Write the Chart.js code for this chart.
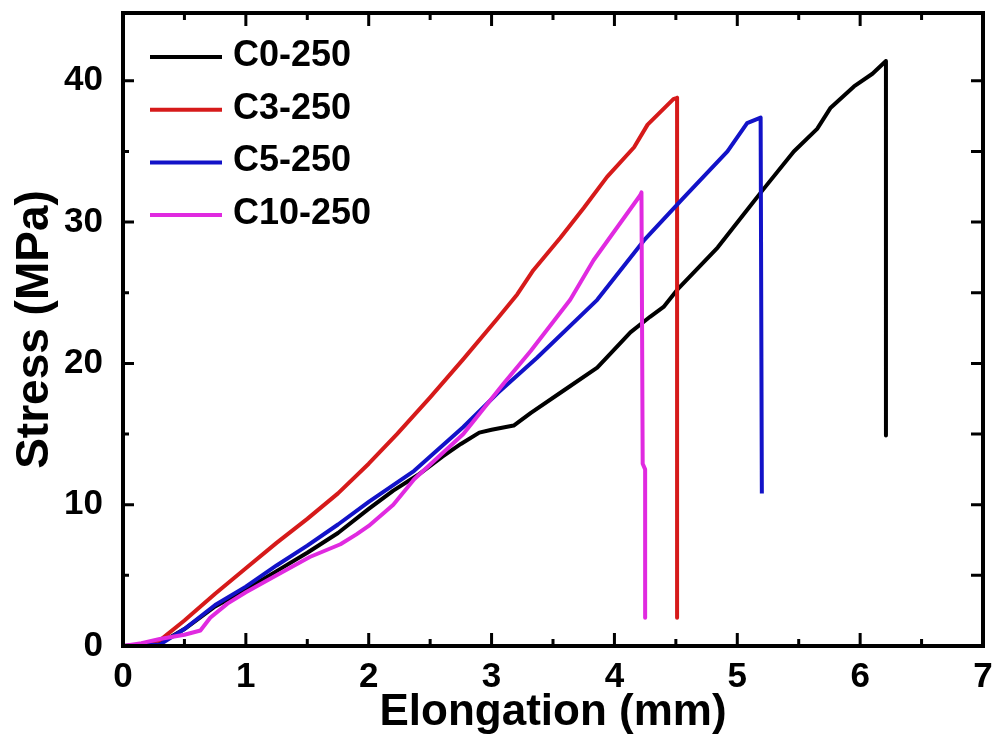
<!DOCTYPE html>
<html>
<head>
<meta charset="utf-8">
<script src="https://cdn.jsdelivr.net/npm/chart.js@4.4.1/dist/chart.umd.min.js"></script>
<style>
  html, body { margin: 0; padding: 0; background: #fff; }
  #wrap { width: 1000px; height: 742px; }
</style>
</head>
<body>
<div id="wrap"><canvas id="stressChart" width="1000" height="742"></canvas></div>
<script>
// Elongation (mm) / Stress (MPa)
const c0X = [0, 0.15, 0.3, 0.5, 0.75, 1.0, 1.25, 1.5, 1.75, 2.0, 2.2, 2.4, 2.6, 2.75, 2.9, 3.0, 3.18, 3.32, 3.59, 3.86, 4.0, 4.13, 4.29, 4.4, 4.51, 4.84, 5.11, 5.21, 5.46, 5.65, 5.76, 5.95, 6.1, 6.21, 6.21];
const c0Y = [0, 0.05, 0.2, 1.2, 2.8, 4.0, 5.3, 6.6, 8.0, 9.7, 11.0, 12.1, 13.4, 14.3, 15.1, 15.3, 15.6, 16.5, 18.1, 19.7, 21.0, 22.2, 23.3, 24.0, 25.2, 28.2, 31.2, 32.3, 35.0, 36.6, 38.1, 39.6, 40.5, 41.4, 14.9];

const c3X = [0, 0.15, 0.3, 0.5, 0.75, 1.0, 1.25, 1.5, 1.75, 2.0, 2.23, 2.5, 2.77, 3.05, 3.21, 3.34, 3.56, 3.75, 3.94, 4.16, 4.27, 4.48, 4.51, 4.51];
const c3Y = [0, 0.05, 0.4, 1.8, 3.7, 5.5, 7.3, 9.0, 10.8, 12.9, 15.0, 17.6, 20.3, 23.2, 24.9, 26.6, 28.9, 31.0, 33.2, 35.3, 36.9, 38.7, 38.8, 2.0];

const c5X = [0, 0.3, 0.5, 0.75, 1.0, 1.25, 1.5, 1.75, 2.0, 2.37, 2.77, 3.05, 3.37, 3.86, 4.24, 4.56, 4.92, 5.08, 5.19, 5.2];
const c5Y = [0, 0.1, 1.2, 2.9, 4.2, 5.7, 7.1, 8.6, 10.2, 12.4, 15.5, 17.9, 20.4, 24.5, 28.7, 31.7, 35.0, 37.0, 37.4, 10.8];

const c10X = [0, 0.15, 0.3, 0.5, 0.63, 0.71, 0.85, 1.0, 1.25, 1.52, 1.77, 1.9, 2.0, 2.2, 2.37, 2.77, 3.1, 3.32, 3.64, 3.83, 4.02, 4.21, 4.22, 4.23, 4.25, 4.25];
const c10Y = [0, 0.2, 0.5, 0.8, 1.1, 2.0, 3.0, 3.8, 5.0, 6.3, 7.2, 7.9, 8.5, 10.0, 11.8, 15.0, 18.6, 20.9, 24.5, 27.3, 29.6, 31.9, 32.1, 12.9, 12.5, 2.0];

const seriesNames = ['C0-250', 'C3-250', 'C5-250', 'C10-250'];
const seriesColors = ['#000000', '#d61a1a', '#1212c8', '#e02ae0'];

const xTicks = [0, 1, 2, 3, 4, 5, 6, 7];
const yTicks = [0, 10, 20, 30, 40];

const FONT = "'Liberation Sans', Arial, sans-serif";

function toPoints(xs, ys) {
    return xs.map((x, i) => ({ x: x, y: ys[i] }));
}

// frame + inward ticks on all four sides
const frameTicks = {
    id: 'frameTicks',
    afterDatasetsDraw(chart) {
        const ctx = chart.ctx;
        const a = chart.chartArea;
        const xs = chart.scales.x, ys = chart.scales.y;
        ctx.save();
        ctx.strokeStyle = '#000';
        ctx.lineCap = 'butt';
        ctx.lineWidth = 3;
        for (let v = 0; v <= 7; v += 0.5) {
            const px = xs.getPixelForValue(v);
            const len = Number.isInteger(v) ? 13 : 7;
            ctx.beginPath();
            ctx.moveTo(px, a.bottom); ctx.lineTo(px, a.bottom - len);
            ctx.moveTo(px, a.top); ctx.lineTo(px, a.top + len);
            ctx.stroke();
        }
        for (let v = 0; v <= 40; v += 5) {
            const py = ys.getPixelForValue(v);
            const len = v % 10 === 0 ? 11 : 6;
            ctx.beginPath();
            ctx.moveTo(a.left, py); ctx.lineTo(a.left + len, py);
            ctx.moveTo(a.right, py); ctx.lineTo(a.right - 12, py);
            ctx.stroke();
        }
        ctx.lineWidth = 4;
        ctx.strokeRect(a.left, a.top, a.right - a.left, a.bottom - a.top);
        ctx.restore();
    }
};

// legend in the upper-left of the plot
const insideLegend = {
    id: 'insideLegend',
    afterDraw(chart) {
        const ctx = chart.ctx;
        const a = chart.chartArea;
        ctx.save();
        ctx.font = 'bold 36px ' + FONT;
        ctx.textBaseline = 'middle';
        ctx.fillStyle = '#000';
        chart.data.datasets.forEach((ds, i) => {
            const y = a.top + 44 + i * 52.7;
            ctx.strokeStyle = ds.borderColor;
            ctx.lineWidth = 4;
            ctx.beginPath();
            ctx.moveTo(a.left + 27, y);
            ctx.lineTo(a.left + 99, y);
            ctx.stroke();
            ctx.fillText(ds.label, a.left + 110, y - 1);
        });
        ctx.restore();
    }
};

const allX = [c0X, c3X, c5X, c10X];
const allY = [c0Y, c3Y, c5Y, c10Y];

const datasets = seriesNames.map((name, i) => ({
    label: name,
    data: toPoints(allX[i], allY[i]),
    borderColor: seriesColors[i],
    backgroundColor: seriesColors[i],
    borderWidth: 4,
    pointRadius: 0,
    showLine: true,
    fill: false,
    tension: 0,
    order: seriesNames.length - i,
    borderJoinStyle: 'round'
}));

function noEdgePadding(scale) {
    scale.paddingTop = 0;
    scale.paddingBottom = 0;
    scale.paddingLeft = 0;
    scale.paddingRight = 0;
}

const ctx = document.getElementById('stressChart').getContext('2d');
new Chart(ctx, {
    type: 'scatter',
    data: { datasets: datasets },
    options: {
        responsive: false,
        animation: false,
        layout: { padding: { top: 13, right: 17, left: 0, bottom: 0 } },
        plugins: {
            legend: { display: false },
            tooltip: { enabled: false }
        },
        scales: {
            x: {
                type: 'linear',
                min: 0,
                max: 7,
                afterFit(scale) { scale.height = 96; noEdgePadding(scale); },
                afterBuildTicks(scale) { scale.ticks = xTicks.map(v => ({ value: v })); },
                grid: { display: false, drawTicks: false },
                border: { display: false },
                ticks: {
                    padding: 10,
                    color: '#000',
                    font: { family: FONT, size: 35, weight: 'bold' }
                },
                title: {
                    display: true,
                    text: 'Elongation (mm)',
                    color: '#000',
                    font: { family: FONT, size: 44, weight: 'bold' },
                    padding: { top: 0, bottom: 3 }
                }
            },
            y: {
                type: 'linear',
                min: 0,
                max: 44.8,
                afterFit(scale) { scale.width = 123; noEdgePadding(scale); },
                afterBuildTicks(scale) { scale.ticks = yTicks.map(v => ({ value: v })); },
                grid: { display: false, drawTicks: false },
                border: { display: false },
                ticks: {
                    padding: 20,
                    color: '#000',
                    font: { family: FONT, size: 35, weight: 'bold' }
                },
                title: {
                    display: true,
                    text: 'Stress (MPa)',
                    color: '#000',
                    font: { family: FONT, size: 46, weight: 'bold' },
                    padding: { top: 8, bottom: 0 }
                }
            }
        }
    },
    plugins: [frameTicks, insideLegend]
});
</script>
</body>
</html>
